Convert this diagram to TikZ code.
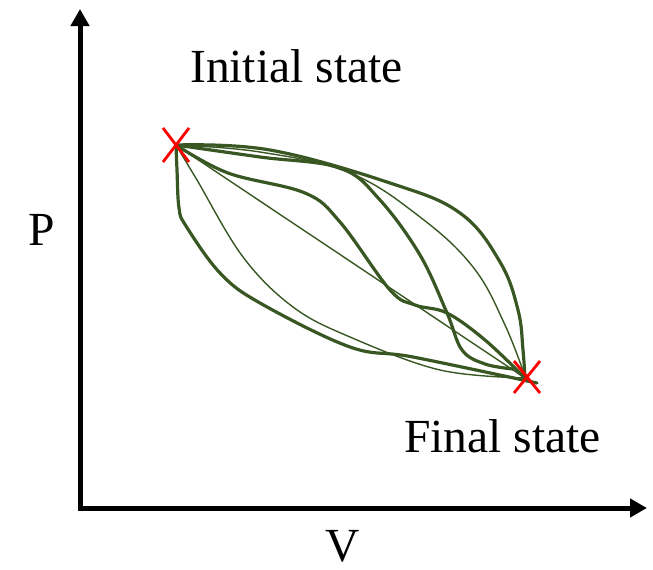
\documentclass[tikz,border=0pt]{standalone}
\usepackage{fontspec}
\setmainfont{Liberation Serif}
\usetikzlibrary{arrows.meta}
\definecolor{curvegreen}{RGB}{56,87,35}
\tikzset{
  axis/.style={line width=5pt, line join=miter, {Triangle[length=17pt,width=18pt]}-{Triangle[length=17pt,width=18pt]}},
  thickc/.style={curvegreen, line width=3.2pt, line cap=round},
  thinc/.style={curvegreen, line width=1.4pt, line cap=round},
  cross/.style={red, line width=2.8pt},
  lbl/.style={font=\fontsize{47.5}{50}\selectfont, inner sep=0pt}
}
\begin{document}
\begin{tikzpicture}[x=1pt, y=-1pt]
\useasboundingbox (0,0) rectangle (653,570);
\coordinate (ini) at (176,145);
\coordinate (fin) at (525,378);
\coordinate (ytip) at (80,9);
\coordinate (orig) at (80,508);
\coordinate (xtip) at (647,508);
\draw[axis] (ytip) -- (orig) -- (xtip);
% curves
\draw[thinc] (ini) -- (fin);
\draw[thinc] plot[smooth, tension=0.6] coordinates {(176,145) (197,180) (243,257) (293,307) (350,337) (440,370) (525,378)};
\draw[thickc] plot[smooth, tension=0.6] coordinates {(176,145) (177,170) (179,208) (186,226) (220,273) (260,303) (350,347) (413,357) (537,383)};
\draw[thickc] plot[smooth, tension=0.65] coordinates {(176,145) (270,150) (390,183) (460,213) (500,262) (518,310) (523,350) (525,380)};
\draw[thinc] plot[smooth, tension=0.65] coordinates {(176,145) (260,152) (350,173) (420,217) (473,267) (505,325) (527,382)};
\draw[thickc] plot[smooth, tension=0.6] coordinates {(176,145) (260,157) (340,168) (380,200) (420,255) (447,313) (462,350) (485,364) (513,369)};
\draw[thickc] plot[smooth, tension=0.6] coordinates {(176,145) (228,173) (305,193) (340,222) (390,290) (415,305) (447,313) (485,340) (525,378)};
% crosses
\draw[cross] (163,128) -- (189,162) (189,128) -- (163,162);
\draw[cross] (514,361) -- (540,393) (540,361) -- (514,393);
% labels
\node[lbl, anchor=base west] (initlbl) at (190,82) {Initial state};
\node[lbl, anchor=base west] (finlbl) at (404,452) {Final state};
\node[lbl, anchor=base west] (plbl) at (28,245) {P};
\node[lbl, anchor=base] (vlbl) at (343,561) {V};
\end{tikzpicture}
\end{document}
